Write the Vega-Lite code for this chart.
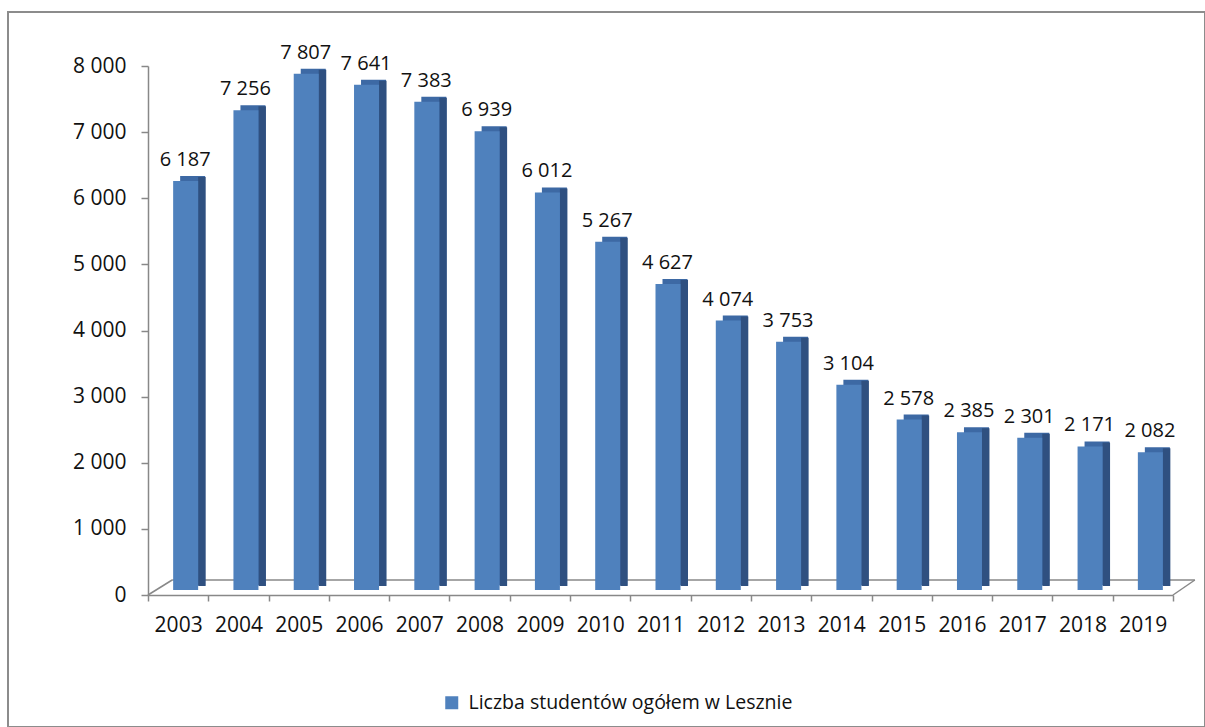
{
  "$schema": "https://vega.github.io/schema/vega-lite/v6.json",
  "width": 1197,
  "height": 715,
  "autosize": {"type": "none"},
  "padding": {"left": 8, "top": 12, "right": 0, "bottom": 0},
  "background": "white",
  "config": {
    "locale": {"number": {"decimal": ",", "thousands": " ", "grouping": [3], "currency": ["", " zł"]}},
    "view": {"stroke": "#8c8c8c", "strokeWidth": 2},
    "font": "Open Sans"
  },
  "data": {
    "values": [
      {"year": "2003", "v": 6187},
      {"year": "2004", "v": 7256},
      {"year": "2005", "v": 7807},
      {"year": "2006", "v": 7641},
      {"year": "2007", "v": 7383},
      {"year": "2008", "v": 6939},
      {"year": "2009", "v": 6012},
      {"year": "2010", "v": 5267},
      {"year": "2011", "v": 4627},
      {"year": "2012", "v": 4074},
      {"year": "2013", "v": 3753},
      {"year": "2014", "v": 3104},
      {"year": "2015", "v": 2578},
      {"year": "2016", "v": 2385},
      {"year": "2017", "v": 2301},
      {"year": "2018", "v": 2171},
      {"year": "2019", "v": 2082}
    ]
  },
  "layer": [
    {
      "data": {"values": [{}]},
      "mark": {"type": "rule", "color": "#888888", "strokeWidth": 1.5, "xOffset": -6, "x2Offset": 52, "yOffset": -15, "y2Offset": -15},
      "encoding": {
        "x": {"datum": "2003", "type": "ordinal"},
        "x2": {"datum": "2019"},
        "y": {"datum": 0, "type": "quantitative"},
        "y2": {"datum": 0}
      }
    },
    {
      "data": {"values": [{}]},
      "mark": {"type": "rule", "color": "#888888", "strokeWidth": 1.5, "xOffset": -30.15, "x2Offset": -6, "yOffset": 0, "y2Offset": -15},
      "encoding": {
        "x": {"datum": "2003", "type": "ordinal"},
        "x2": {"datum": "2003"},
        "y": {"datum": 0, "type": "quantitative"},
        "y2": {"datum": 0}
      }
    },
    {
      "data": {"values": [{}]},
      "mark": {"type": "rule", "color": "#888888", "strokeWidth": 1.5, "xOffset": 30.15, "x2Offset": 52, "yOffset": 0, "y2Offset": -15},
      "encoding": {
        "x": {"datum": "2019", "type": "ordinal"},
        "x2": {"datum": "2019"},
        "y": {"datum": 0, "type": "quantitative"},
        "y2": {"datum": 0}
      }
    },
    {
      "mark": {"type": "bar", "width": 25, "color": "#3d69a4", "xOffset": 14.5, "x2Offset": 14.5, "yOffset": -10, "y2Offset": -10},
      "encoding": {
        "x": {"field": "year", "type": "ordinal"},
        "y": {"field": "v", "type": "quantitative"}
      }
    },
    {
      "mark": {"type": "bar", "width": 7.5, "color": "#2f5080", "xOffset": 23.75, "x2Offset": 23.75, "yOffset": -9, "y2Offset": -7},
      "encoding": {
        "x": {"field": "year", "type": "ordinal"},
        "y": {"field": "v", "type": "quantitative"}
      }
    },
    {
      "mark": {"type": "bar", "width": 25, "xOffset": 7.5, "x2Offset": 7.5, "yOffset": -5, "y2Offset": -5},
      "encoding": {
        "x": {
          "field": "year",
          "type": "ordinal",
          "scale": {"range": [140, 1165], "paddingInner": 0, "paddingOuter": 0},
          "axis": {
            "title": null,
            "offset": -132,
            "tickBand": "extent",
            "labelAngle": 0,
            "labelOffset": 24,
            "labelFontSize": 21,
            "labelColor": "#111111",
            "labelPadding": 24,
            "tickSize": 6,
            "tickColor": "#888888",
            "tickWidth": 1.5,
            "domainColor": "#888888",
            "domainWidth": 1.5
          }
        },
        "y": {
          "field": "v",
          "type": "quantitative",
          "scale": {"domain": [0, 8000], "range": [583, 54], "nice": false},
          "axis": {
            "title": null,
            "offset": -140,
            "values": [0, 1000, 2000, 3000, 4000, 5000, 6000, 7000, 8000],
            "format": ",d",
            "grid": false,
            "labelFontSize": 21,
            "labelColor": "#111111",
            "labelPadding": 15,
            "tickSize": 7,
            "tickColor": "#888888",
            "tickWidth": 1.5,
            "domainColor": "#888888",
            "domainWidth": 1.5
          }
        },
        "color": {
          "datum": "Liczba studentów ogółem w Lesznie",
          "type": "nominal",
          "scale": {"range": ["#4f81bd"]},
          "legend": {
            "orient": "none",
            "legendX": 434,
            "legendY": 681,
            "title": null,
            "symbolType": "square",
            "symbolSize": 169,
            "symbolStrokeWidth": 0,
            "labelFontSize": 19.5,
            "labelLimit": 500,
            "labelColor": "#111111",
            "labelOffset": 7,
            "padding": 0
          }
        }
      }
    },
    {
      "mark": {"type": "text", "baseline": "alphabetic", "dy": -20, "xOffset": 7, "fontSize": 20, "color": "#111111"},
      "encoding": {
        "x": {"field": "year", "type": "ordinal"},
        "y": {"field": "v", "type": "quantitative"},
        "text": {"field": "v", "type": "quantitative", "format": ",d"}
      }
    }
  ]
}
